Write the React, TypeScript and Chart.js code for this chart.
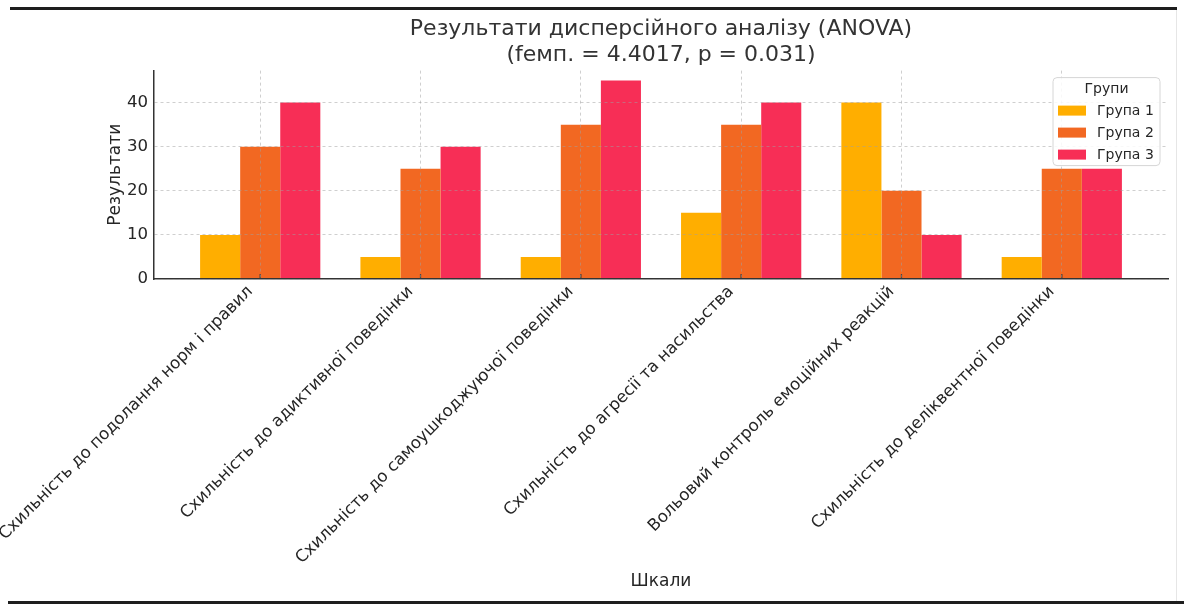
import React, { useEffect, useRef } from "react";
import { Chart, registerables } from "chart.js";

Chart.register(...registerables);

// ---- Data ----
const categories = [
  "Схильність до подолання норм і правил",
  "Схильність до адиктивної поведінки",
  "Схильність до самоушкоджуючої поведінки",
  "Схильність до агресії та насильства",
  "Вольовий контроль емоційних реакцій",
  "Схильність до деліквентної поведінки",
];
const group1 = [10, 5, 5, 15, 40, 5];
const group2 = [30, 25, 35, 35, 20, 25];
const group3 = [40, 30, 45, 40, 10, 25];
const seriesNames = ["Група 1", "Група 2", "Група 3"];
const yTickStep = 10;
const yMax = 47.25;
const chartTitle = ["Результати дисперсійного аналізу (ANOVA)", "(fемп. = 4.4017, p = 0.031)"];
const xTitle = "Шкали";
const yTitle = "Результати";
const legendTitle = "Групи";

// ---- Styles ----
const colors = ["#FFAE00", "#F26822", "#F72E56"];
const FONT = "'DejaVu Sans', sans-serif";
const TEXT = "#262626";
const GRID = "rgba(160,160,160,0.5)";

const legendPlugin = {
  id: "mplLegend",
  afterDraw(chart: any) {
    const { ctx, chartArea } = chart;
    const w = 107;
    const h = 88;
    const left = chartArea.right - 8 - w;
    const top = chartArea.top + 7;
    ctx.save();
    ctx.beginPath();
    const r = 4;
    ctx.moveTo(left + r, top);
    ctx.lineTo(left + w - r, top);
    ctx.quadraticCurveTo(left + w, top, left + w, top + r);
    ctx.lineTo(left + w, top + h - r);
    ctx.quadraticCurveTo(left + w, top + h, left + w - r, top + h);
    ctx.lineTo(left + r, top + h);
    ctx.quadraticCurveTo(left, top + h, left, top + h - r);
    ctx.lineTo(left, top + r);
    ctx.quadraticCurveTo(left, top, left + r, top);
    ctx.closePath();
    ctx.fillStyle = "rgba(255,255,255,0.85)";
    ctx.fill();
    ctx.strokeStyle = "#d6d6d6";
    ctx.lineWidth = 1;
    ctx.stroke();

    ctx.fillStyle = TEXT;
    ctx.font = `14px ${FONT}`;
    ctx.textBaseline = "middle";
    ctx.textAlign = "center";
    ctx.fillText(legendTitle, left + w / 2, top + 12);
    ctx.textAlign = "left";
    chart.data.datasets.forEach((ds: any, i: number) => {
      const cy = top + 33 + i * 22;
      ctx.fillStyle = ds.backgroundColor;
      ctx.fillRect(left + 5, cy - 5, 28, 10);
      ctx.fillStyle = TEXT;
      ctx.fillText(ds.label, left + 44, cy + 1);
    });
    ctx.restore();
  },
};

const innerTicksPlugin = {
  id: "innerTicks",
  afterDatasetsDraw(chart: any) {
    const { ctx, chartArea } = chart;
    const xs = chart.scales.x;
    ctx.save();
    ctx.strokeStyle = "#333";
    ctx.lineWidth = 1.2;
    xs.ticks.forEach((_t: any, i: number) => {
      const px = xs.getPixelForTick(i);
      ctx.beginPath();
      ctx.moveTo(px, chartArea.bottom);
      ctx.lineTo(px, chartArea.bottom - 5);
      ctx.stroke();
    });
    ctx.restore();
  },
};

export default function App() {
  const canvasRef = useRef<HTMLCanvasElement | null>(null);

  useEffect(() => {
    if (!canvasRef.current) return;
    const series = [group1, group2, group3];
    const chart = new Chart(canvasRef.current, {
      type: "bar",
      data: {
        labels: categories,
        datasets: series.map((d, i) => ({
          label: seriesNames[i],
          data: d,
          backgroundColor: colors[i],
          borderWidth: 0,
          categoryPercentage: 0.75,
          barPercentage: 1.0,
        })),
      },
      plugins: [innerTicksPlugin, legendPlugin],
      options: {
        animation: false,
        responsive: false,
        devicePixelRatio: 1,
        layout: { padding: { left: 0, right: 16, top: 0, bottom: 0 } },
        plugins: {
          legend: { display: false },
          tooltip: { enabled: false },
          title: {
            display: true,
            text: chartTitle,
            fullSize: false,
            color: "#333",
            font: { family: FONT, size: 22, lineHeight: 1.15, weight: "normal" },
            padding: { top: 17, bottom: 3 },
          },
        },
        scales: {
          x: {
            type: "category",
            offset: false,
            grid: { display: true, color: GRID, lineWidth: 1, drawTicks: false, offset: false, z: 1 },
            border: { display: true, color: "#333", width: 1.5, dash: [3, 3], z: 1 },
            ticks: {
              autoSkip: false,
              minRotation: 45,
              maxRotation: 45,
              color: TEXT,
              font: { family: FONT, size: 16.6 },
              padding: 3,
              labelOffset: -10,
            },
            title: {
              display: true,
              text: xTitle,
              color: TEXT,
              font: { family: FONT, size: 17 },
              padding: { top: 0, bottom: 12 },
            },
            afterBuildTicks: (s: any) => {
              s._startValue = -0.6625;
              s._valueRange = categories.length - 1 + 2 * 0.6625;
            },
            afterFit: (s: any) => {
              s.height = 325;
              s.paddingLeft = 0;
              s.paddingRight = 0;
            },
          },
          y: {
            type: "linear",
            min: 0,
            max: yMax,
            grid: { display: true, color: GRID, lineWidth: 1, drawTicks: false, z: 1 },
            border: { display: true, color: "#333", width: 1.5, dash: [3, 3], z: 1 },
            ticks: {
              stepSize: yTickStep,
              includeBounds: false,
              color: TEXT,
              font: { family: FONT, size: 16.6 },
              padding: 6,
            },
            title: {
              display: true,
              text: yTitle,
              color: TEXT,
              font: { family: FONT, size: 17 },
              padding: { top: 105, bottom: 0 },
            },
            afterFit: (s: any) => {
              s.width = 154;
              s.paddingTop = 0;
              s.paddingBottom = 0;
            },
          },
        },
      } as any,
    });
    return () => chart.destroy();
  }, []);

  return (
    <div style={{ position: "fixed", left: 0, top: 0, width: 1184, height: 604, background: "#fff", overflow: "hidden" }}>
      <canvas ref={canvasRef} width={1184} height={604} style={{ position: "absolute", left: 0, top: 0, width: 1184, height: 604 }} />
      <div style={{ position: "absolute", left: 10, top: 7, width: 1167, height: 3, background: "#1e1e1e" }} />
      <div style={{ position: "absolute", left: 1176, top: 10, width: 1, height: 591, background: "#e6e6e6" }} />
      <div style={{ position: "absolute", left: 8, top: 601, width: 1176, height: 3, background: "#1e1e1e" }} />
    </div>
  );
}
